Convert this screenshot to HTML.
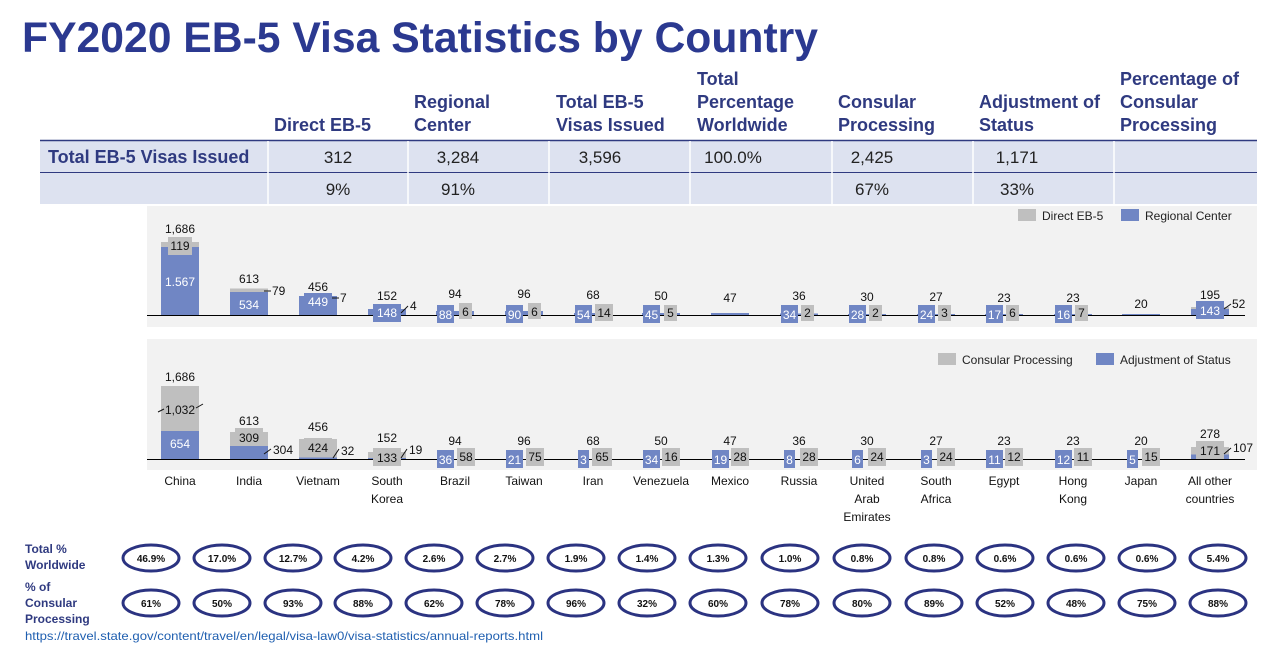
<!DOCTYPE html>
<html><head><meta charset="utf-8"><style>
body{margin:0;background:#fff;}
svg{display:block;font-family:"Liberation Sans",Arial,sans-serif;}
</style></head><body>
<svg width="1280" height="646" viewBox="0 0 1280 646" xmlns="http://www.w3.org/2000/svg">
<text x="22" y="52" font-size="43" font-weight="bold" fill="#2b3990" textLength="796" lengthAdjust="spacingAndGlyphs">FY2020 EB-5 Visa Statistics by Country</text>
<g font-size="18" font-weight="bold" fill="#2f3a80">
<text x="274" y="131">Direct EB-5</text>
<text x="414" y="108">Regional</text><text x="414" y="131">Center</text>
<text x="556" y="108">Total EB-5</text><text x="556" y="131">Visas Issued</text>
<text x="697" y="85">Total</text><text x="697" y="108">Percentage</text><text x="697" y="131">Worldwide</text>
<text x="838" y="108">Consular</text><text x="838" y="131">Processing</text>
<text x="979" y="108">Adjustment of</text><text x="979" y="131">Status</text>
<text x="1120" y="85">Percentage of</text><text x="1120" y="108">Consular</text><text x="1120" y="131">Processing</text>
</g>
<rect x="40" y="140" width="1217" height="64" fill="#dde2f0"/>
<line x1="40" y1="140.5" x2="1257" y2="140.5" stroke="#2f3a80" stroke-width="1.5"/>
<line x1="40" y1="172.5" x2="1257" y2="172.5" stroke="#2f3a80" stroke-width="1"/>
<g stroke="#fff" stroke-width="1.5">
<line x1="268" y1="141" x2="268" y2="204"/><line x1="408" y1="141" x2="408" y2="204"/><line x1="549" y1="141" x2="549" y2="204"/><line x1="690" y1="141" x2="690" y2="204"/><line x1="832" y1="141" x2="832" y2="204"/><line x1="973" y1="141" x2="973" y2="204"/><line x1="1114" y1="141" x2="1114" y2="204"/>
</g>
<text x="48" y="163" font-size="18" font-weight="bold" fill="#2f3a80">Total EB-5 Visas Issued</text>
<g font-size="17" fill="#222" text-anchor="middle">
<text x="338" y="163">312</text><text x="458" y="163">3,284</text><text x="600" y="163">3,596</text><text x="733" y="163">100.0%</text><text x="872" y="163">2,425</text><text x="1017" y="163">1,171</text>
<text x="338" y="195">9%</text><text x="458" y="195">91%</text><text x="872" y="195">67%</text><text x="1017" y="195">33%</text>
</g>
<rect x="147" y="206" width="1110" height="121" fill="#f2f2f2"/>
<rect x="147" y="339" width="1110" height="131" fill="#f2f2f2"/>
<g font-size="12" fill="#222">
<rect x="1018" y="209" width="18" height="12" fill="#bfbfbf"/><text x="1042" y="220">Direct EB-5</text>
<rect x="1121" y="209" width="18" height="12" fill="#7086c4"/><text x="1145" y="220">Regional Center</text>
<rect x="938" y="353" width="18" height="12" fill="#bfbfbf"/><text x="962" y="364">Consular Processing</text>
<rect x="1096" y="353" width="18" height="12" fill="#7086c4"/><text x="1120" y="364">Adjustment of Status</text>
</g>
<g fill="#7086c4">
<rect x="161" y="247" width="38" height="68"/><rect x="230" y="292" width="38" height="23"/><rect x="299" y="296" width="38" height="19"/><rect x="368" y="309" width="38" height="6"/>
<rect x="436" y="311" width="38" height="4"/><rect x="505" y="311" width="38" height="4"/><rect x="574" y="313" width="38" height="2"/><rect x="642" y="313" width="38" height="2"/>
<rect x="711" y="313" width="38" height="2"/><rect x="780" y="313.5" width="38" height="1.5"/><rect x="848" y="314" width="38" height="1"/><rect x="917" y="314" width="38" height="1"/>
<rect x="985" y="314" width="38" height="1"/><rect x="1054" y="314" width="38" height="1"/><rect x="1122" y="314" width="38" height="1"/><rect x="1191" y="309" width="38" height="6"/>
</g>
<g fill="#bfbfbf">
<rect x="161" y="242" width="38" height="5"/><rect x="230" y="288.5" width="38" height="3.5"/><rect x="1191" y="307" width="38" height="2"/>
</g>
<line x1="147" y1="315.5" x2="1245" y2="315.5" stroke="#000" stroke-width="1"/>
<g fill="#7086c4">
<rect x="166" y="272" width="28" height="18"/><rect x="235" y="296" width="28" height="18"/><rect x="304" y="293" width="28" height="18"/><rect x="373" y="304" width="28" height="18"/>
<rect x="437" y="305" width="17" height="18"/><rect x="506" y="305" width="17" height="18"/><rect x="575" y="305" width="17" height="18"/><rect x="643" y="305" width="17" height="18"/>
<rect x="781" y="305" width="17" height="18"/><rect x="849" y="305" width="17" height="18"/><rect x="918" y="305" width="17" height="18"/><rect x="986" y="305" width="17" height="18"/><rect x="1055" y="305" width="17" height="18"/>
<rect x="1196" y="301" width="28" height="18"/>
</g>
<g fill="#bfbfbf">
<rect x="168" y="237" width="24" height="18"/>
<rect x="459" y="303" width="13" height="16"/><rect x="528" y="303" width="13" height="16"/><rect x="595" y="304" width="18" height="17"/><rect x="664" y="305" width="13" height="16"/>
<rect x="801" y="305" width="13" height="16"/><rect x="869" y="305" width="13" height="16"/><rect x="938" y="305" width="13" height="16"/><rect x="1006" y="305" width="13" height="16"/><rect x="1075" y="305" width="13" height="16"/>
</g>
<g font-size="12" fill="#fff" text-anchor="middle">
<text x="180" y="286">1.567</text><text x="249" y="309">534</text><text x="318" y="306">449</text><text x="387" y="317">148</text>
<text x="445.5" y="319">88</text><text x="514.5" y="319">90</text><text x="583.5" y="319">54</text><text x="651.5" y="319">45</text>
<text x="789.5" y="319">34</text><text x="857.5" y="319">28</text><text x="926.5" y="319">24</text><text x="994.5" y="319">17</text><text x="1063.5" y="319">16</text>
<text x="1210" y="315">143</text>
</g>
<g font-size="12" fill="#111" text-anchor="middle">
<text x="180" y="250">119</text>
<text x="465.5" y="316">6</text><text x="534.5" y="316">6</text><text x="604" y="317">14</text><text x="670.5" y="317">5</text>
<text x="807.5" y="317">2</text><text x="875.5" y="317">2</text><text x="944.5" y="317">3</text><text x="1012.5" y="317">6</text><text x="1081.5" y="317">7</text>
<text x="180" y="233">1,686</text><text x="249" y="283">613</text><text x="318" y="291">456</text><text x="387" y="300">152</text>
<text x="455" y="298">94</text><text x="524" y="298">96</text><text x="593" y="299">68</text><text x="661" y="300">50</text>
<text x="730" y="302">47</text><text x="799" y="300">36</text><text x="867" y="301">30</text><text x="936" y="301">27</text><text x="1004" y="302">23</text><text x="1073" y="302">23</text><text x="1141" y="308">20</text><text x="1210" y="299">195</text>
</g>
<g font-size="12" fill="#111">
<text x="272" y="295">79</text><text x="340" y="302">7</text><text x="410" y="310">4</text><text x="1232" y="308">52</text>
</g>
<g stroke="#111" stroke-width="1">
<line x1="264" y1="291" x2="271" y2="291"/><line x1="332" y1="298" x2="339" y2="298"/><line x1="401" y1="313" x2="408" y2="306"/><line x1="1224" y1="309" x2="1231" y2="304"/>
</g>
<g fill="#7086c4">
<rect x="161" y="431" width="38" height="28"/><rect x="230" y="446" width="38" height="13"/><rect x="299" y="457.5" width="38" height="1.5"/><rect x="368" y="458" width="38" height="1"/>
<rect x="1191" y="454.5" width="38" height="4.5"/>
</g>
<g fill="#bfbfbf">
<rect x="161" y="386" width="38" height="45"/><rect x="230" y="432" width="38" height="14"/><rect x="299" y="439" width="38" height="18.5"/><rect x="368" y="452" width="38" height="6"/>
<rect x="1191" y="447" width="38" height="7.5"/>
</g>
<line x1="147" y1="459.5" x2="1245" y2="459.5" stroke="#000" stroke-width="1"/>
<g fill="#bfbfbf">
<rect x="165" y="400" width="30" height="18"/><rect x="235" y="428" width="28" height="18"/><rect x="304" y="438" width="28" height="18"/><rect x="373" y="448" width="28" height="18"/>
<rect x="457" y="448" width="18" height="18"/><rect x="526" y="448" width="18" height="18"/><rect x="592" y="448" width="20" height="18"/><rect x="662" y="448" width="18" height="18"/>
<rect x="731" y="448" width="18" height="18"/><rect x="800" y="448" width="18" height="18"/><rect x="868" y="448" width="18" height="18"/><rect x="937" y="448" width="18" height="18"/>
<rect x="1005" y="448" width="18" height="18"/><rect x="1074" y="448" width="18" height="18"/><rect x="1142" y="448" width="18" height="18"/><rect x="1196" y="441" width="28" height="18"/>
</g>
<g fill="#7086c4">
<rect x="166" y="434" width="28" height="18"/>
<rect x="437" y="450" width="17" height="18"/><rect x="506" y="450" width="17" height="18"/><rect x="578" y="450" width="11" height="18"/><rect x="643" y="450" width="17" height="18"/>
<rect x="712" y="450" width="17" height="18"/><rect x="784" y="450" width="11" height="18"/><rect x="852" y="450" width="11" height="18"/><rect x="921" y="450" width="11" height="18"/>
<rect x="986" y="450" width="17" height="18"/><rect x="1055" y="450" width="17" height="18"/><rect x="1127" y="450" width="11" height="18"/>
</g>
<g font-size="12" fill="#fff" text-anchor="middle">
<text x="180" y="448">654</text>
<text x="445.5" y="464">36</text><text x="514.5" y="464">21</text><text x="583.5" y="464">3</text><text x="651.5" y="464">34</text>
<text x="720.5" y="464">19</text><text x="789.5" y="464">8</text><text x="857.5" y="464">6</text><text x="926.5" y="464">3</text>
<text x="994.5" y="464">11</text><text x="1063.5" y="464">12</text><text x="1132.5" y="464">5</text>
</g>
<g font-size="12" fill="#111" text-anchor="middle">
<text x="180" y="414">1,032</text><text x="249" y="442">309</text><text x="318" y="452">424</text><text x="387" y="462">133</text>
<text x="466" y="461">58</text><text x="535" y="461">75</text><text x="602" y="461">65</text><text x="671" y="461">16</text>
<text x="740" y="461">28</text><text x="809" y="461">28</text><text x="877" y="461">24</text><text x="946" y="461">24</text>
<text x="1014" y="461">12</text><text x="1083" y="461">11</text><text x="1151" y="461">15</text><text x="1210" y="455">171</text>
<text x="180" y="381">1,686</text><text x="249" y="425">613</text><text x="318" y="431">456</text><text x="387" y="442">152</text>
<text x="455" y="445">94</text><text x="524" y="445">96</text><text x="593" y="445">68</text><text x="661" y="445">50</text>
<text x="730" y="445">47</text><text x="799" y="445">36</text><text x="867" y="445">30</text><text x="936" y="445">27</text>
<text x="1004" y="445">23</text><text x="1073" y="445">23</text><text x="1141" y="445">20</text><text x="1210" y="438">278</text>
</g>
<g font-size="12" fill="#111">
<text x="273" y="454">304</text><text x="341" y="455">32</text><text x="409" y="454">19</text><text x="1233" y="452">107</text>
</g>
<g stroke="#111" stroke-width="1">
<line x1="264" y1="454" x2="271" y2="449"/><line x1="333" y1="458" x2="339" y2="449"/><line x1="401" y1="458" x2="407" y2="449"/><line x1="1224" y1="454" x2="1231" y2="448"/>
<line x1="158" y1="412" x2="164" y2="409"/><line x1="196" y1="408" x2="203" y2="404"/>
</g>
<g font-size="12" fill="#111" text-anchor="middle">
<text x="180" y="485">China</text><text x="249" y="485">India</text><text x="318" y="485">Vietnam</text><text x="387" y="485">South</text><text x="387" y="503">Korea</text>
<text x="455" y="485">Brazil</text><text x="524" y="485">Taiwan</text><text x="593" y="485">Iran</text><text x="661" y="485">Venezuela</text>
<text x="730" y="485">Mexico</text><text x="799" y="485">Russia</text><text x="867" y="485">United</text><text x="867" y="503">Arab</text><text x="867" y="521">Emirates</text>
<text x="936" y="485">South</text><text x="936" y="503">Africa</text><text x="1004" y="485">Egypt</text><text x="1073" y="485">Hong</text><text x="1073" y="503">Kong</text>
<text x="1141" y="485">Japan</text><text x="1210" y="485">All other</text><text x="1210" y="503">countries</text>
</g>
<g font-size="12" font-weight="bold" fill="#2f3a80">
<text x="25" y="553">Total %</text><text x="25" y="569">Worldwide</text>
<text x="25" y="591">% of</text><text x="25" y="607">Consular</text><text x="25" y="623">Processing</text>
</g>
<g fill="none" stroke="#2b3381" stroke-width="3">
<ellipse cx="151" cy="558" rx="28" ry="13"/><ellipse cx="222" cy="558" rx="28" ry="13"/><ellipse cx="293" cy="558" rx="28" ry="13"/><ellipse cx="363" cy="558" rx="28" ry="13"/>
<ellipse cx="434" cy="558" rx="28" ry="13"/><ellipse cx="505" cy="558" rx="28" ry="13"/><ellipse cx="576" cy="558" rx="28" ry="13"/><ellipse cx="647" cy="558" rx="28" ry="13"/>
<ellipse cx="718" cy="558" rx="28" ry="13"/><ellipse cx="790" cy="558" rx="28" ry="13"/><ellipse cx="862" cy="558" rx="28" ry="13"/><ellipse cx="934" cy="558" rx="28" ry="13"/>
<ellipse cx="1005" cy="558" rx="28" ry="13"/><ellipse cx="1076" cy="558" rx="28" ry="13"/><ellipse cx="1147" cy="558" rx="28" ry="13"/><ellipse cx="1218" cy="558" rx="28" ry="13"/>
<ellipse cx="151" cy="603" rx="28" ry="13"/><ellipse cx="222" cy="603" rx="28" ry="13"/><ellipse cx="293" cy="603" rx="28" ry="13"/><ellipse cx="363" cy="603" rx="28" ry="13"/>
<ellipse cx="434" cy="603" rx="28" ry="13"/><ellipse cx="505" cy="603" rx="28" ry="13"/><ellipse cx="576" cy="603" rx="28" ry="13"/><ellipse cx="647" cy="603" rx="28" ry="13"/>
<ellipse cx="718" cy="603" rx="28" ry="13"/><ellipse cx="790" cy="603" rx="28" ry="13"/><ellipse cx="862" cy="603" rx="28" ry="13"/><ellipse cx="934" cy="603" rx="28" ry="13"/>
<ellipse cx="1005" cy="603" rx="28" ry="13"/><ellipse cx="1076" cy="603" rx="28" ry="13"/><ellipse cx="1147" cy="603" rx="28" ry="13"/><ellipse cx="1218" cy="603" rx="28" ry="13"/>
</g>
<g font-size="10" font-weight="bold" fill="#111" text-anchor="middle">
<text x="151" y="562">46.9%</text><text x="222" y="562">17.0%</text><text x="293" y="562">12.7%</text><text x="363" y="562">4.2%</text>
<text x="434" y="562">2.6%</text><text x="505" y="562">2.7%</text><text x="576" y="562">1.9%</text><text x="647" y="562">1.4%</text>
<text x="718" y="562">1.3%</text><text x="790" y="562">1.0%</text><text x="862" y="562">0.8%</text><text x="934" y="562">0.8%</text>
<text x="1005" y="562">0.6%</text><text x="1076" y="562">0.6%</text><text x="1147" y="562">0.6%</text><text x="1218" y="562">5.4%</text>
<text x="151" y="607">61%</text><text x="222" y="607">50%</text><text x="293" y="607">93%</text><text x="363" y="607">88%</text>
<text x="434" y="607">62%</text><text x="505" y="607">78%</text><text x="576" y="607">96%</text><text x="647" y="607">32%</text>
<text x="718" y="607">60%</text><text x="790" y="607">78%</text><text x="862" y="607">80%</text><text x="934" y="607">89%</text>
<text x="1005" y="607">52%</text><text x="1076" y="607">48%</text><text x="1147" y="607">75%</text><text x="1218" y="607">88%</text>
</g>
<text x="25" y="640" font-size="12" fill="#1f5fb0" textLength="518" lengthAdjust="spacingAndGlyphs">https://travel.state.gov/content/travel/en/legal/visa-law0/visa-statistics/annual-reports.html</text>
</svg>
</body></html>
